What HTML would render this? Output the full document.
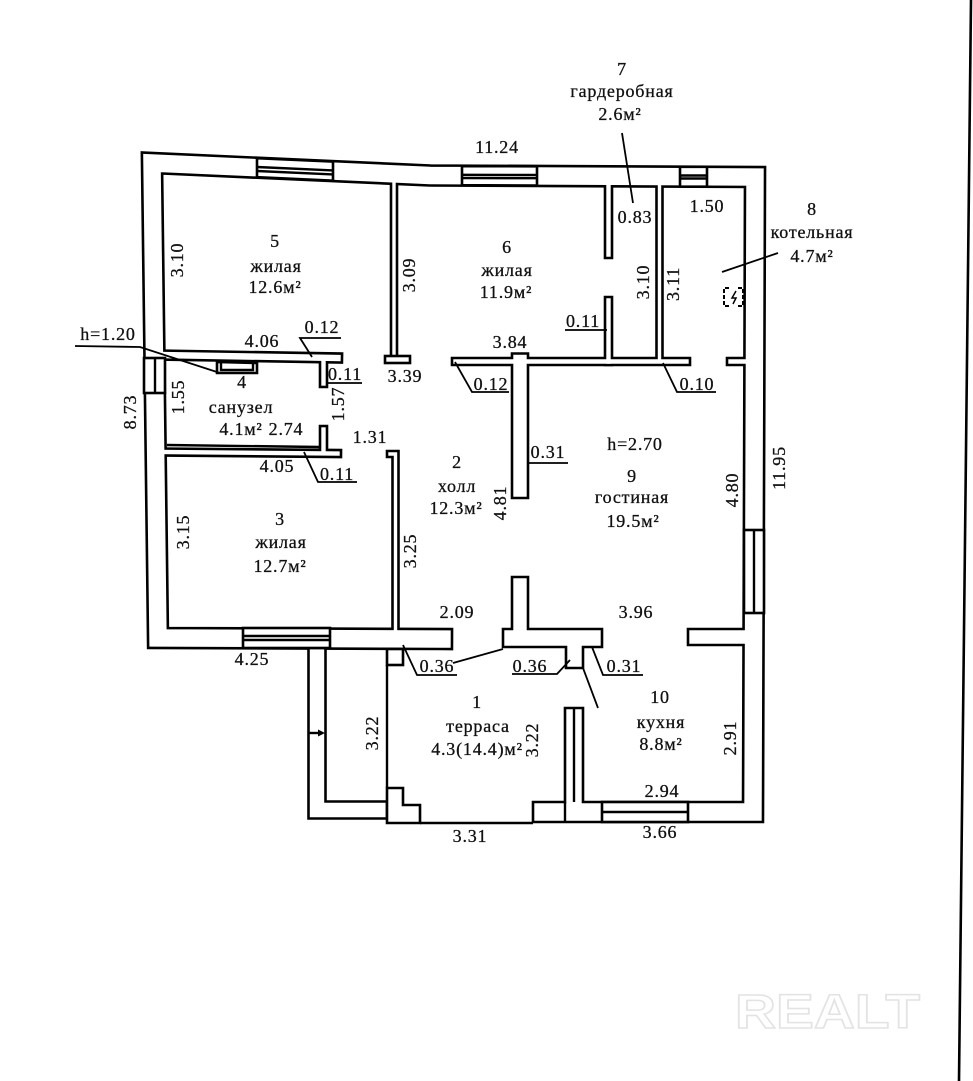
<!DOCTYPE html>
<html><head><meta charset="utf-8"><style>
html,body{margin:0;padding:0;background:#fff;}
svg{display:block;}
text{font-family:"Liberation Serif","DejaVu Serif",serif;font-size:18px;fill:#111;stroke:#111;stroke-width:0.3px;letter-spacing:0.8px;}
</style></head><body>
<svg width="973" height="1081" viewBox="0 0 973 1081" xmlns="http://www.w3.org/2000/svg">
<rect width="973" height="1081" fill="#fff"/>

<!-- black pass -->
<g fill="none" stroke="#000" stroke-linecap="square" stroke-linejoin="miter">
<path d="M442 639 L158 638 L152 163 L430 175.5 L755 177 L753 812 L543 812" stroke-width="22.6"/>
<path d="M512 638 L593 638" stroke-width="20.6"/>
<path d="M574.5 640 L574.5 659.5" stroke-width="19.6"/>
<path d="M520 638 L520 585" stroke-width="18.6"/>
<path d="M696 637 L753 637" stroke-width="18.6"/>
<path d="M317 656.5 L317 810 L378.5 810" stroke-width="19.6"/>
<path d="M158 355 L337.5 358" stroke-width="11.6"/>
<path d="M323.5 358 L323.5 383.5" stroke-width="9.6"/>
<path d="M158 452 L337.5 453.5" stroke-width="9.6"/>
<path d="M323.5 452 L323.5 429.5" stroke-width="9.6"/>
<path d="M394 178 L394 356" stroke-width="8.6"/>
<path d="M390 454 L395.5 454 L395.5 638" stroke-width="8.6"/>
<path d="M455.5 361.5 L686.5 361.5" stroke-width="9.6"/>
<path d="M520 361.5 L520 490" stroke-width="18.6"/>
<path d="M608.5 177 L608.5 254.5 M608.5 300.5 L608.5 361.5" stroke-width="9.6"/>
<path d="M659.5 177 L659.5 361.5" stroke-width="8.6"/>
<path d="M730.5 361.5 L753 361.5" stroke-width="9.6"/>
<path d="M574 717 L574 812" stroke-width="20.6"/>
</g>
<!-- white pass -->
<g fill="none" stroke="#fff" stroke-linecap="square" stroke-linejoin="miter">
<path d="M442 639 L158 638 L152 163 L430 175.5 L755 177 L753 812 L543 812" stroke-width="17.4"/>
<path d="M512 638 L593 638" stroke-width="15.4"/>
<path d="M574.5 640 L574.5 659.5" stroke-width="14.4"/>
<path d="M520 638 L520 585" stroke-width="13.4"/>
<path d="M696 637 L753 637" stroke-width="13.4"/>
<path d="M317 656.5 L317 810 L378.5 810" stroke-width="14.4"/>
<path d="M158 355 L337.5 358" stroke-width="6.4"/>
<path d="M323.5 358 L323.5 383.5" stroke-width="4.4"/>
<path d="M158 452 L337.5 453.5" stroke-width="4.4"/>
<path d="M323.5 452 L323.5 429.5" stroke-width="4.4"/>
<path d="M394 178 L394 356" stroke-width="3.4"/>
<path d="M390 454 L395.5 454 L395.5 638" stroke-width="3.4"/>
<path d="M455.5 361.5 L686.5 361.5" stroke-width="4.4"/>
<path d="M520 361.5 L520 490" stroke-width="13.4"/>
<path d="M608.5 177 L608.5 254.5 M608.5 300.5 L608.5 361.5" stroke-width="4.4"/>
<path d="M659.5 177 L659.5 361.5" stroke-width="3.4"/>
<path d="M730.5 361.5 L753 361.5" stroke-width="4.4"/>
<path d="M574 717 L574 812" stroke-width="15.4"/>
</g>

<!-- details -->
<g fill="#fff" stroke="#000" stroke-width="2.6" stroke-linejoin="miter">
<polygon points="257,158.2 333,161.6 333,180.7 257,177.2"/>
<polygon points="462,166.1 537,166.3 537,185.6 462,185.2"/>
<polygon points="680,166.8 707,166.8 707,186.7 680,186.5"/>
<rect x="144" y="358" width="21" height="35"/>
<rect x="744" y="530" width="20" height="83"/>
<rect x="243" y="628" width="87" height="20"/>
<rect x="602" y="802" width="86" height="20"/>
<rect x="385" y="356" width="25" height="7"/>
<polygon points="217,362 257,363 257,373 217,373"/>
<rect x="387" y="649" width="16" height="16"/>
<polygon points="387,788 403,788 403,805 420,805 420,823 387,823"/>
</g>

<g fill="none" stroke="#000" stroke-width="2.4">
<path d="M257 167 L333 170.4 M257 171 L333 174.4"/>
<path d="M462 174.8 L537 175 M462 178 L537 178.2"/>
<path d="M680 175.5 L707 175.5 M680 178.5 L707 178.5"/>
<path d="M155 358 L155 393"/>
<path d="M754 530 L754 613"/>
<path d="M243 636 L330 636 M243 640 L330 640"/>
<path d="M602 812 L688 812"/>
<path d="M221 363 L221 370 L253 370 L253 363"/>
<path d="M574 708 L574 802"/>
<path d="M565 802 L565 822"/>
<path d="M167 445 L320 447"/>
<path d="M387 665 L387 788"/>
<path d="M420 823 L533 823"/>
<path d="M309 733 L322 733"/>
<path d="M622 133 L633 203" stroke-width="1.8"/>
<path d="M722 272 L778 253" stroke-width="1.8"/>
<path d="M75 346 L140 347 L220 373" stroke-width="1.8"/>
<path d="M341 338 L300 338 L312 357" stroke-width="1.8"/>
<path d="M327 383 L362 383" stroke-width="1.8"/>
<path d="M304 452 L318 482 L357 482" stroke-width="1.8"/>
<path d="M455 362 L472 392 L509 392" stroke-width="1.8"/>
<path d="M663 363 L677 392 L716 392" stroke-width="1.8"/>
<path d="M565 330 L607 330" stroke-width="1.8"/>
<path d="M528 463 L568 463" stroke-width="1.8"/>
<path d="M403 645 L417 675 L457 675" stroke-width="1.8"/>
<path d="M453 663 L503 649" stroke-width="1.8"/>
<path d="M512 674 L557 674 L570 660" stroke-width="1.8"/>
<path d="M592 647 L603 675 L643 675" stroke-width="1.8"/>
<path d="M583 668 L598 708" stroke-width="1.8"/>
<path d="M729 288 L724 288 L724 306 L729 306 M738 288 L743 288 L743 306 L738 306" stroke-width="2" stroke-dasharray="4 2"/>
<path d="M736 291 L732 298 L736 298 L733 304" stroke-width="1.5"/>
<path d="M971 0 L959 1081" stroke-width="2.6"/>
</g>
<polygon points="318,729.5 325,733 318,736.5" fill="#000"/>

<!-- texts -->
<g text-anchor="middle">
<text x="622" y="75">7</text>
<text x="622" y="97">гардеробная</text>
<text x="620" y="120">2.6м²</text>
<text x="497" y="153">11.24</text>
<text x="812" y="215">8</text>
<text x="812" y="238">котельная</text>
<text x="812" y="262">4.7м²</text>
<text x="635" y="223">0.83</text>
<text x="707" y="212">1.50</text>
<text x="275" y="247">5</text>
<text x="276" y="272">жилая</text>
<text x="275" y="293">12.6м²</text>
<text x="507" y="253">6</text>
<text x="507" y="276">жилая</text>
<text x="506" y="298">11.9м²</text>
<text x="583" y="327">0.11</text>
<text x="510" y="348">3.84</text>
<text x="491" y="390">0.12</text>
<text x="697" y="390">0.10</text>
<text x="108" y="340">h=1.20</text>
<text x="262" y="347">4.06</text>
<text x="322" y="333">0.12</text>
<text x="242" y="388">4</text>
<text x="345" y="380">0.11</text>
<text x="405" y="382">3.39</text>
<text x="241" y="413">санузел</text>
<text x="241" y="435">4.1м²</text>
<text x="286" y="435">2.74</text>
<text x="370" y="443">1.31</text>
<text x="277" y="472">4.05</text>
<text x="337" y="480">0.11</text>
<text x="457" y="468">2</text>
<text x="457" y="492">холл</text>
<text x="456" y="514">12.3м²</text>
<text x="548" y="458">0.31</text>
<text x="635" y="450">h=2.70</text>
<text x="632" y="482">9</text>
<text x="632" y="503">гостиная</text>
<text x="633" y="527">19.5м²</text>
<text x="280" y="525">3</text>
<text x="281" y="548">жилая</text>
<text x="280" y="572">12.7м²</text>
<text x="457" y="618">2.09</text>
<text x="636" y="618">3.96</text>
<text x="252" y="665">4.25</text>
<text x="437" y="672">0.36</text>
<text x="530" y="672">0.36</text>
<text x="624" y="672">0.31</text>
<text x="477" y="708">1</text>
<text x="478" y="732">терраса</text>
<text x="477" y="755">4.3(14.4)м²</text>
<text x="660" y="703">10</text>
<text x="661" y="728">кухня</text>
<text x="661" y="750">8.8м²</text>
<text x="662" y="797">2.94</text>
<text x="470" y="842">3.31</text>
<text x="660" y="838">3.66</text>
</g>
<g text-anchor="middle" dominant-baseline="central">
<text transform="translate(177,260) rotate(-90)">3.10</text>
<text transform="translate(409,275) rotate(-90)">3.09</text>
<text transform="translate(643,282) rotate(-90)">3.10</text>
<text transform="translate(673,284) rotate(-90)">3.11</text>
<text transform="translate(130,412) rotate(-90)">8.73</text>
<text transform="translate(178,397) rotate(-90)">1.55</text>
<text transform="translate(338,404) rotate(-90)">1.57</text>
<text transform="translate(500,503) rotate(-90)">4.81</text>
<text transform="translate(732,490) rotate(-90)">4.80</text>
<text transform="translate(779,468) rotate(-90)">11.95</text>
<text transform="translate(183,532) rotate(-90)">3.15</text>
<text transform="translate(410,551) rotate(-90)">3.25</text>
<text transform="translate(372,733) rotate(-90)">3.22</text>
<text transform="translate(532,740) rotate(-90)">3.22</text>
<text transform="translate(730,738) rotate(-90)">2.91</text>
</g>

<text x="735" y="1028" textLength="185" lengthAdjust="spacingAndGlyphs" style="font-family:'Liberation Sans',sans-serif;font-weight:bold;font-size:48px;fill:none;stroke:#e3e3e3;stroke-width:1.5;letter-spacing:0">REALT</text>
</svg>
</body></html>
